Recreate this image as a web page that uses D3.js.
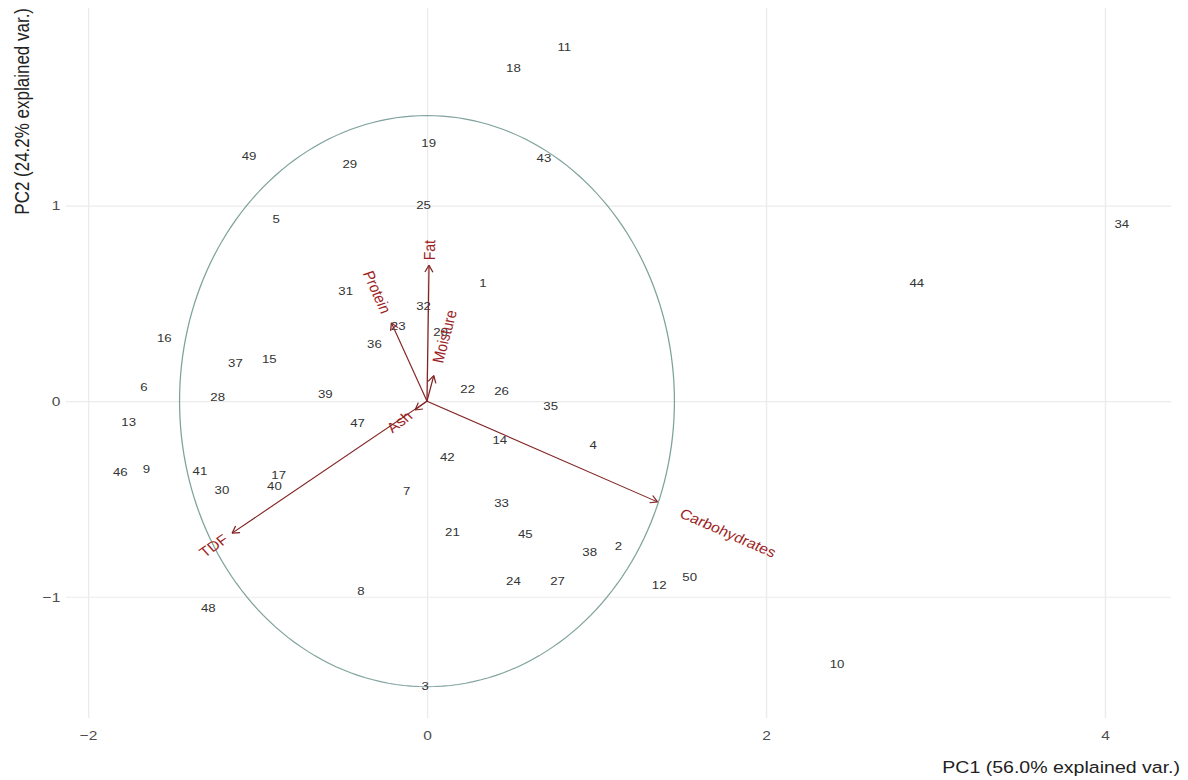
<!DOCTYPE html>
<html><head><meta charset="utf-8">
<script src="https://cdn.jsdelivr.net/npm/d3@7"></script>
<style>body{margin:0;background:#fff}svg{display:block}</style>
</head><body>
<svg id="chart" width="1188" height="780"></svg>
<script>
// ---- data ----
const obsIds = ["1","2","3","4","5","6","7","8","9","10","11","12","13","14","15","16","17","18","19","20","21","22","23","24","25","26","27","28","29","30","31","32","33","34","35","36","37","38","39","40","41","42","43","44","45","46","47","48","49","50"];
const pc1 = [0.33,1.13,-0.01,0.98,-0.89,-1.67,-0.12,-0.39,-1.655,2.42,0.81,1.37,-1.76,0.43,-0.93,-1.55,-0.875,0.51,0.01,0.08,0.15,0.24,-0.17,0.51,-0.02,0.44,0.77,-1.235,-0.455,-1.21,-0.48,-0.02,0.44,4.10,0.73,-0.31,-1.13,0.96,-0.60,-0.90,-1.34,0.12,0.69,2.89,0.58,-1.81,-0.41,-1.29,-1.05,1.55];
const pc2 = [0.60,-0.74,-1.46,-0.225,0.93,0.07,-0.46,-0.97,-0.35,-1.345,1.81,-0.94,-0.11,-0.20,0.215,0.32,-0.38,1.70,1.32,0.35,-0.67,0.06,0.385,-0.92,1.00,0.05,-0.92,0.02,1.21,-0.455,0.56,0.485,-0.52,0.905,-0.025,0.29,0.195,-0.775,0.035,-0.435,-0.36,-0.285,1.24,0.60,-0.68,-0.365,-0.115,-1.06,1.25,-0.90];
const varNames = ["Fat","Protein","Moisture","Ash","TDF","Carbohydrates"];
const varPC1 = [0.012,-0.21,0.04,-0.07,-1.15,1.36];
const varPC2 = [0.695,0.40,0.13,-0.045,-0.675,-0.515];
const xTicks = [-2,0,2,4];
const yTicks = [-1,0,1];
const circleRadius = 1.46;
const xTitle = "PC1 (56.0% explained var.)";
const yTitle = "PC2 (24.2% explained var.)";

// ---- layout ----
const SX = 1.15; // horizontal stretch of the reference picture
const panel = {left:66, right:1171, top:8, bottom:718};
const font = "'Liberation Sans', Arial, Helvetica, sans-serif";
const svg = d3.select("#chart");
const g = svg.append("g").attr("transform", `scale(${SX},1)`);

const x = d3.scaleLinear().domain([-2.13, 4.39]).range([panel.left/SX, panel.right/SX]);
const y = d3.scaleLinear().domain([-1.62, 2.01]).range([panel.bottom, panel.top]);

// grid + axes
const xAxis = d3.axisBottom(x).tickValues(xTicks).tickSize(-(panel.bottom-panel.top)).tickPadding(12)
  .tickFormat(d => d < 0 ? "\u2212" + Math.abs(d) : d);
const yAxis = d3.axisLeft(y).tickValues(yTicks).tickSize(-(panel.right-panel.left)/SX).tickPadding(5)
  .tickFormat(d => d < 0 ? "\u2212" + Math.abs(d) : d);
const gx = g.append("g").attr("transform", `translate(0,${panel.bottom})`).call(xAxis);
const gy = g.append("g").attr("transform", `translate(${panel.left/SX},0)`).call(yAxis);
[gx, gy].forEach(a => {
  a.select(".domain").remove();
  a.selectAll(".tick line").attr("stroke", "#ebebeb").attr("stroke-width", 1.2);
  a.selectAll(".tick text").attr("fill", "#4d4d4d").style("font-family", font).style("font-size", "13.5px");
});

// correlation circle
const circPts = d3.range(0, 201).map(i => {
  const t = i / 200 * 2 * Math.PI;
  return [circleRadius * Math.cos(t), circleRadius * Math.sin(t)];
});
g.append("path")
  .attr("d", d3.line().x(d => x(d[0])).y(d => y(d[1]))(circPts))
  .attr("fill", "none").attr("stroke", "#7fa29d").attr("stroke-width", 1.1);

// observation labels
g.append("g").selectAll("text").data(obsIds).join("text")
  .attr("x", (d, i) => x(pc1[i])).attr("y", (d, i) => y(pc2[i]))
  .attr("text-anchor", "middle").attr("dominant-baseline", "central")
  .style("font-family", font).style("font-size", "11.5px").attr("fill", "#333")
  .text(d => d);

// variable arrows
const ox = x(0), oy = y(0);
const ag = g.append("g");
varNames.forEach((name, i) => {
  const tx = x(varPC1[i]), ty = y(varPC2[i]);
  ag.append("line").attr("x1", ox).attr("y1", oy).attr("x2", tx).attr("y2", ty)
    .attr("stroke", "#832424").attr("stroke-width", 1.1);
  // arrow head computed in screen space
  const sx = tx*SX, sy = ty, sox = ox*SX;
  let dx = sx - sox, dy = sy - oy; const len = Math.hypot(dx, dy); dx /= len; dy /= len;
  const L = 8, a = Math.PI/6;
  [a, -a].forEach(ang => {
    const bx = -dx*Math.cos(ang) + dy*Math.sin(ang);
    const by = -dx*Math.sin(ang) - dy*Math.cos(ang);
    ag.append("line").attr("x1", tx).attr("y1", ty)
      .attr("x2", (sx + L*bx)/SX).attr("y2", sy + L*by)
      .attr("stroke", "#832424").attr("stroke-width", 1.1);
  });
  // label, in inner coordinates
  let ux = tx - ox, uy = ty - oy; const ul = Math.hypot(ux, uy); ux /= ul; uy /= ul;
  let angle = Math.atan2(uy, ux) * 180 / Math.PI;
  const pos = varPC1[i] >= 0;
  if (!pos) angle += 180;
  const t = ag.append("text").style("font-family", font).style("font-size", "14px")
    .attr("fill", "#9e1f26").attr("dominant-baseline", "central")
    .attr("text-anchor", pos ? "start" : "end").text(name);
  const w = t.node().getComputedTextLength();
  const gap = 0.25 * w;
  const px = tx + gap*ux, py = ty + gap*uy;
  t.attr("transform", `translate(${px},${py}) rotate(${angle})`);
});

// axis titles
g.append("text").attr("x", 1180/SX).attr("y", 767).attr("text-anchor", "end")
  .attr("dominant-baseline", "central").style("font-family", font).style("font-size", "17px")
  .attr("fill", "#222").text(xTitle);
g.append("text").attr("transform", `translate(${22/SX},8) rotate(-90)`).attr("text-anchor", "end")
  .attr("dominant-baseline", "central").style("font-family", font).style("font-size", "17px")
  .attr("fill", "#222").text(yTitle);
</script>
</body></html>
